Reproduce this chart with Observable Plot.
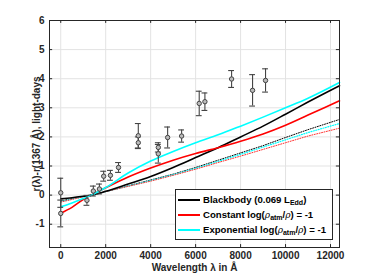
<!DOCTYPE html>
<html>
<head>
<meta charset="utf-8">
<script src="https://cdn.jsdelivr.net/npm/d3@7"></script>
<script src="https://cdn.jsdelivr.net/npm/@observablehq/plot@0.6"></script>
<style>
  html, body { margin: 0; padding: 0; background: #fff; }
  #wrap { position: relative; width: 375px; height: 278px; font-family: "Liberation Sans", Arial, sans-serif; }
  #legend { position: absolute; left: 175px; top: 189px; width: 158px; height: 51px; background: #fff;
            border: 1px solid #262626; box-sizing: border-box; font-weight: bold; font-size: 9.6px; color: #000; }
  #legend .row { position: absolute; left: 2px; height: 14px; line-height: 14px; white-space: nowrap; }
  #legend .sw { display: inline-block; width: 22px; height: 2px; vertical-align: middle; margin-right: 3px; }
  #legend sub { font-size: 7px; vertical-align: -2px; line-height: 0; }
  #legend i { font-family: "DejaVu Serif", serif; font-weight: normal; font-style: italic; font-size: 9px; }
</style>
</head>
<body>
<div id="wrap"></div>
<script>
// Observations
const obsX   = [0, 0, 1165, 1450, 1720, 1910, 2210, 2570, 3450, 3450, 4340, 4340, 4755, 5377, 6160, 6413, 7600, 8533, 9110];
const obsY   = [0.08, -0.63, -0.18, 0.14, 0.21, 0.65, 0.68, 0.95, 2.04, 1.80, 1.64, 1.42, 1.98, 2.03, 3.15, 3.21, 3.99, 3.60, 3.94];
const obsErr = [0.50, 0.46, 0.17, 0.17, 0.17, 0.17, 0.17, 0.17, 0.42, 0.20, 0.16, 0.32, 0.36, 0.21, 0.42, 0.30, 0.29, 0.54, 0.40];

// Model curves
const modelX      = [0, 500, 1000, 1367, 2000, 3000, 4000, 5000, 6000, 7000, 8000, 9000, 10000, 11000, 12400];
const blackbody   = [-0.13, -0.09, -0.04, 0, 0.13, 0.38, 0.64, 0.95, 1.29, 1.63, 2.00, 2.37, 2.78, 3.20, 3.76];
const constant    = [-0.62, -0.42, -0.15, 0, 0.25, 0.62, 0.93, 1.20, 1.43, 1.63, 1.85, 2.10, 2.40, 2.75, 3.24];
const exponential = [-0.40, -0.27, -0.12, 0, 0.26, 0.76, 1.17, 1.50, 1.80, 2.07, 2.37, 2.68, 3.00, 3.33, 3.87];
const blackDot    = [-0.20, -0.12, -0.05, 0, 0.12, 0.32, 0.52, 0.72, 0.95, 1.20, 1.45, 1.70, 1.98, 2.25, 2.60];
const cyanDot     = [-0.22, -0.14, -0.05, 0, 0.12, 0.31, 0.50, 0.70, 0.92, 1.16, 1.40, 1.65, 1.90, 2.15, 2.46];
const redDot      = [-0.24, -0.15, -0.06, 0, 0.12, 0.30, 0.48, 0.68, 0.89, 1.12, 1.34, 1.57, 1.80, 2.03, 2.30];

const xTicks = [0, 2000, 4000, 6000, 8000, 10000, 12000];
const yTicks = [-1, 0, 1, 2, 3, 4, 5, 6];
const xDomain = [-500, 12400];
const yDomain = [-1.8, 6];

const obs = obsX.map((x, i) => ({x, y: obsY[i], e: obsErr[i]}));
const series = (ys) => modelX.map((x, i) => ({x, y: ys[i]}));

const capW = 130;   // half width of error-bar caps (x units)
const tkX = 140, tkY = 0.1; // inner tick lengths

const chart = Plot.plot({
  width: 375, height: 278,
  marginLeft: 49, marginRight: 36, marginTop: 20, marginBottom: 31,
  style: {fontFamily: "'Liberation Sans', Arial, sans-serif", fontSize: "10px", fontWeight: "bold", color: "#262626", background: "#fff"},
  x: {domain: xDomain},
  y: {domain: yDomain},
  marks: [
    Plot.gridX(xTicks, {stroke: "#e3e3e3", strokeOpacity: 1}),
    Plot.gridY(yTicks, {stroke: "#e3e3e3", strokeOpacity: 1}),
    Plot.axisX({ticks: xTicks, tickSize: 0, tickPadding: 4, tickFormat: d => String(d),
      label: "Wavelength λ in Å", labelAnchor: "center", labelArrow: "none", labelOffset: 23}),
    Plot.axisY({ticks: yTicks, tickSize: 0, tickPadding: 5, tickFormat: d => String(d),
      label: "r(λ)-r(1367 Å), light-days", labelAnchor: "center", labelArrow: "none", labelOffset: 17}),
    // inward ticks on all four sides
    Plot.ruleX(xTicks, {x: d => d, y1: yDomain[0], y2: yDomain[0] + tkY, stroke: "#262626"}),
    Plot.ruleX(xTicks, {x: d => d, y1: yDomain[1], y2: yDomain[1] - tkY, stroke: "#262626"}),
    Plot.ruleY(yTicks, {y: d => d, x1: xDomain[0], x2: xDomain[0] + tkX, stroke: "#262626"}),
    Plot.ruleY(yTicks, {y: d => d, x1: xDomain[1], x2: xDomain[1] - tkX, stroke: "#262626"}),
    // dotted models
    Plot.line(series(blackDot), {x: "x", y: "y", stroke: "#000", strokeWidth: 1, strokeDasharray: "1,1.5"}),
    Plot.line(series(cyanDot), {x: "x", y: "y", stroke: "#00ffff", strokeWidth: 1.2, strokeDasharray: "1,1.5"}),
    Plot.line(series(redDot), {x: "x", y: "y", stroke: "#ff3030", strokeWidth: 1, strokeDasharray: "1,1.5"}),
    // solid models
    Plot.line(series(blackbody), {x: "x", y: "y", stroke: "#000", strokeWidth: 1.6, curve: "monotone-x"}),
    Plot.line(series(constant), {x: "x", y: "y", stroke: "#ff0000", strokeWidth: 1.6, curve: "monotone-x"}),
    Plot.line(series(exponential), {x: "x", y: "y", stroke: "#00ffff", strokeWidth: 1.6, curve: "monotone-x"}),
    // error bars
    Plot.ruleX(obs, {x: "x", y1: d => d.y - d.e, y2: d => d.y + d.e, stroke: "#444", strokeWidth: 1.1}),
    Plot.ruleY(obs, {y: d => d.y + d.e, x1: d => d.x - capW, x2: d => d.x + capW, stroke: "#444", strokeWidth: 1.1}),
    Plot.ruleY(obs, {y: d => d.y - d.e, x1: d => d.x - capW, x2: d => d.x + capW, stroke: "#444", strokeWidth: 1.1}),
    Plot.dot(obs, {x: "x", y: "y", r: 2.2, stroke: "#444", fill: "#bbb", strokeWidth: 1}),
    Plot.frame({stroke: "#262626", strokeWidth: 1})
  ]
});

const wrap = document.getElementById("wrap");
wrap.appendChild(chart);

const legend = document.createElement("div");
legend.id = "legend";
legend.innerHTML = `
  <div class="row" style="top:3px"><span class="sw" style="background:#000"></span>Blackbody (0.069 L<sub>Edd</sub>)</div>
  <div class="row" style="top:18px"><span class="sw" style="background:#ff0000"></span>Constant log(<i>ρ</i><sub>atm</sub>/<i>ρ</i>) = -1</div>
  <div class="row" style="top:33px"><span class="sw" style="background:#00ffff"></span>Exponential log(<i>ρ</i><sub>atm</sub>/<i>ρ</i>) = -1</div>`;
wrap.appendChild(legend);
</script>
</body>
</html>
